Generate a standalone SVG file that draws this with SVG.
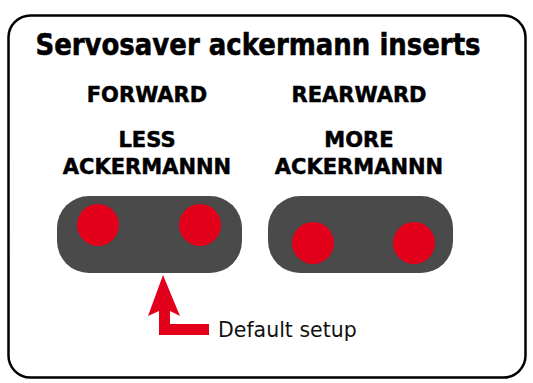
<svg xmlns="http://www.w3.org/2000/svg" width="533" height="383" viewBox="0 0 533 383">
<style>
.t{font-family:"DejaVu Sans",Verdana,sans-serif;font-weight:bold;fill:#000;stroke:#000;stroke-width:0.5;text-anchor:middle}
.h{font-size:21px}
.pill{fill:#4a4a4a}
.hole{fill:#e2001a}
</style>
<rect width="533" height="383" fill="#fff"/>
<rect x="8.5" y="15.5" width="517" height="362" rx="22" fill="#fff" stroke="#000" stroke-width="2.5"/>
<text class="t" transform="translate(258,55) scale(1,1.15)" font-size="26">Servosaver ackermann inserts</text>
<g id="forward">
<text class="t h" x="147" y="102">FORWARD</text>
<text class="t h" x="147" y="147">LESS</text>
<text class="t h" x="147" y="174">ACKERMANNN</text>
<rect class="pill" x="57" y="196" width="185" height="77" rx="32"/>
<circle class="hole" cx="98" cy="225" r="21"/>
<circle class="hole" cx="200" cy="225" r="21"/>
</g>
<g id="rearward">
<text class="t h" x="359" y="102">REARWARD</text>
<text class="t h" x="359" y="147">MORE</text>
<text class="t h" x="359" y="174">ACKERMANNN</text>
<rect class="pill" x="268" y="196" width="185" height="77" rx="32"/>
<circle class="hole" cx="313" cy="243" r="21"/>
<circle class="hole" cx="414" cy="243" r="21"/>
</g>
<g id="connectors">
<polygon class="hole" points="163,275 180,316 170,311 170,324 209,324 209,335 159,335 159,311 148,316"/>
</g>
<g id="default">
<text x="218" y="337" font-size="20.5" font-family="DejaVu Sans,Verdana,sans-serif" fill="#111">Default setup</text>
</g>
</svg>
